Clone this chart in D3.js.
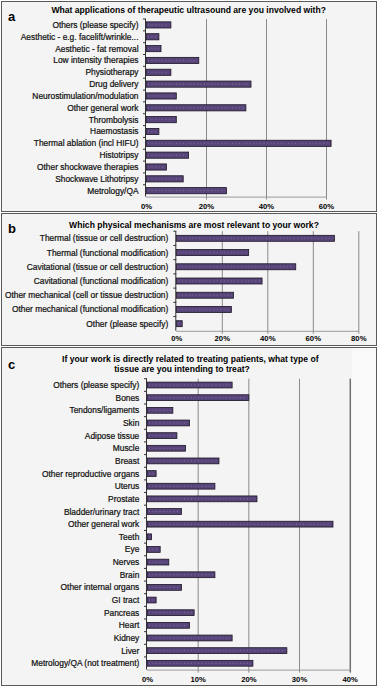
<!DOCTYPE html>
<html>
<head>
<meta charset="utf-8">
<script src="https://cdn.jsdelivr.net/npm/d3@7"></script>
<style>
  body { margin: 0; background: #fff; }
  svg { display: block; font-family: "Liberation Sans", Arial, sans-serif; }
</style>
</head>
<body>
<div id="chart"></div>
<script>
(function(){

  // panel a - applications
  var appsLabels = ["Others (please specify)", "Aesthetic - e.g. facelift/wrinkle...", "Aesthetic - fat removal",
    "Low intensity therapies", "Physiotherapy", "Drug delivery", "Neurostimulation/modulation",
    "Other general work", "Thrombolysis", "Haemostasis", "Thermal ablation (incl HIFU)", "Histotripsy",
    "Other shockwave therapies", "Shockwave Lithotripsy", "Metrology/QA"]
  var appsValues = [8.3, 4.3, 5.0, 17.6, 8.3, 35.0, 10.1, 33.3, 10.1, 4.3, 61.7, 14.2, 6.8, 12.4, 26.8]
  var appsTicks = [0, 20, 40, 60]

  // panel b - mechanisms
  var mechLabels = ["Thermal (tissue or cell destruction)", "Thermal (functional modification)",
    "Cavitational (tissue or cell destruction)", "Cavitational (functional modification)",
    "Other mechanical (cell or tissue destruction)", "Other mechanical (functional modification)",
    "Other (please specify)"]
  var mechValues = [69.5, 31.8, 52.5, 37.7, 25.1, 24.2, 2.6]
  var mechTicks = [0, 20, 40, 60, 80]

  // panel c - tissue
  var tissueLabels = ["Others (please specify)", "Bones", "Tendons/ligaments", "Skin", "Adipose tissue",
    "Muscle", "Breast", "Other reproductive organs", "Uterus", "Prostate", "Bladder/urinary tract",
    "Other general work", "Teeth", "Eye", "Nerves", "Brain", "Other internal organs", "GI tract",
    "Pancreas", "Heart", "Kidney", "Liver", "Metrology/QA (not treatment)"]
  var tissueValues = [16.8, 20.1, 5.1, 8.4, 5.9, 7.6, 14.2, 1.8, 13.4, 21.7, 6.8, 36.7, 0.9, 2.6, 4.3,
    13.4, 6.8, 1.8, 9.3, 8.4, 16.8, 27.6, 20.9]
  var tissueTicks = [0, 10, 20, 30, 40]

  var width = 378, height = 686

  var svg = d3.select("#chart").append("svg")
    .attr("width", width)
    .attr("height", height)

  function drawPanel(p){
    var g = svg.append("g")

    // frame
    g.append("rect")
      .attr("x", 1.5).attr("y", p.top)
      .attr("width", 375).attr("height", p.bottom - p.top)
      .style("fill", "#f4f4f4")
      .style("stroke", "#5a5a5a")
      .style("stroke-width", 1)

    if (p.light) {
      g.append("rect")
        .attr("x", 352).attr("y", p.top + 0.5)
        .attr("width", 24).attr("height", p.bottom - p.top - 1)
        .style("fill", "#f9f9f9")
    }

    // letter
    g.append("text")
      .attr("x", 8).attr("y", p.letterY + 4.5)
      .style("font-size", "13px")
      .style("font-weight", "bold")
      .text(p.letter)

    // title
    p.titles.forEach(function(t){
      g.append("text")
        .attr("x", t.x).attr("y", t.y + 3)
        .attr("text-anchor", "middle")
        .style("font-size", "8.6px")
        .style("font-weight", "bold")
        .text(t.text)
    })

    var x = d3.scaleLinear().domain(p.domain).range(p.xRange)
    var y = d3.scaleBand().domain(p.labels).range(p.yRange).paddingInner(p.pad).paddingOuter(p.pad / 2)

    // gridlines
    g.selectAll(".grid")
      .data(p.ticks.slice(1))
      .enter().append("line")
      .attr("x1", function(d){ return x(d) + 0.5 })
      .attr("x2", function(d){ return x(d) + 0.5 })
      .attr("y1", p.yRange[0])
      .attr("y2", p.yRange[1] + 3)
      .style("stroke", function(d, i){ return (p.darkLast && i == p.ticks.length - 2) ? "#333" : "#8a8a8a" })
      .style("stroke-width", 1)

    // bottom axis line
    g.append("line")
      .attr("x1", x(0)).attr("x2", x(p.ticks[p.ticks.length - 1]) + 0.5)
      .attr("y1", p.yRange[1] + 0.5).attr("y2", p.yRange[1] + 0.5)
      .style("stroke", "#9a9a9a")

    // tick labels
    g.selectAll(".tl")
      .data(p.ticks)
      .enter().append("text")
      .attr("x", function(d){ return x(d) + 0.5 })
      .attr("y", p.tickY + 2.8)
      .attr("text-anchor", "middle")
      .style("font-size", "7.7px")
      .style("font-weight", "bold")
      .text(function(d){ return d + "%" })

    // bars
    var rows = p.labels.map(function(l, i){ return { label: l, value: p.values[i] } })

    g.selectAll(".bar")
      .data(rows)
      .enter().append("rect")
      .attr("x", x(0))
      .attr("y", function(d){ return y(d.label) })
      .attr("width", function(d){ return x(d.value) - x(0) })
      .attr("height", y.bandwidth())
      .style("fill", "#574579")
      .style("stroke", "#1c1424")
      .style("stroke-width", 0.8)

    // dotted texture inside the bars
    g.selectAll(".dots")
      .data(rows)
      .enter().append("line")
      .attr("x1", x(0) + 2)
      .attr("x2", function(d){ return Math.max(x(0) + 2, x(d.value) - 2) })
      .attr("y1", function(d){ return y(d.label) + y.bandwidth() / 2 })
      .attr("y2", function(d){ return y(d.label) + y.bandwidth() / 2 })
      .style("stroke", "#9a8bb5")
      .style("stroke-width", 0.6)
      .style("stroke-dasharray", "1,2.5")

    // y axis line + category ticks
    g.append("line")
      .attr("x1", x(0) - 0.5).attr("x2", x(0) - 0.5)
      .attr("y1", p.yRange[0]).attr("y2", p.yRange[1])
      .style("stroke", "#333")

    g.selectAll(".ytick")
      .data(p.labels)
      .enter().append("line")
      .attr("x1", x(0) - 3).attr("x2", x(0))
      .attr("y1", function(d){ return y(d) - y.step() * p.pad / 2 })
      .attr("y2", function(d){ return y(d) - y.step() * p.pad / 2 })
      .style("stroke", "#333")

    // category labels
    g.selectAll(".yl")
      .data(p.labels)
      .enter().append("text")
      .attr("x", x(0) - p.gap)
      .attr("y", function(d){ return y(d) + y.bandwidth() / 2 + 3 })
      .attr("text-anchor", "end")
      .style("font-size", "8.4px")
      .style("fill", "#111")
      .style("stroke", "#111")
      .style("stroke-width", 0.22)
      .text(function(d){ return d })
  }

  drawPanel({
    top: 1.5, bottom: 211.5, letter: "a", letterY: 16,
    titles: [{ text: "What applications of therapeutic ultrasound are you involved with?", x: 188.7, y: 10 }],
    labels: appsLabels, values: appsValues, ticks: appsTicks,
    domain: [0, 60], xRange: [146, 326], yRange: [19, 196.6], pad: 0.48,
    tickY: 206.5, gap: 7.5
  })

  drawPanel({
    top: 213.5, bottom: 345.5, letter: "b", letterY: 228,
    titles: [{ text: "Which physical mechanisms are most relevant to your work?", x: 194, y: 225 }],
    labels: mechLabels, values: mechValues, ticks: mechTicks,
    domain: [0, 80], xRange: [176.3, 358.3], yRange: [231.2, 330.8], pad: 0.58,
    tickY: 338.3, gap: 8
  })

  drawPanel({
    top: 347.5, bottom: 685.5, letter: "c", letterY: 364.3, light: true, darkLast: true,
    titles: [
      { text: "If your work is directly related to treating patients, what type of", x: 190.3, y: 359 },
      { text: "tissue are you intending to treat?", x: 182, y: 369 }
    ],
    labels: tissueLabels, values: tissueValues, ticks: tissueTicks,
    domain: [0, 40], xRange: [147, 349.7], yRange: [378.7, 669.6], pad: 0.54,
    tickY: 679, gap: 7.7
  })

})()
</script>
</body>
</html>
